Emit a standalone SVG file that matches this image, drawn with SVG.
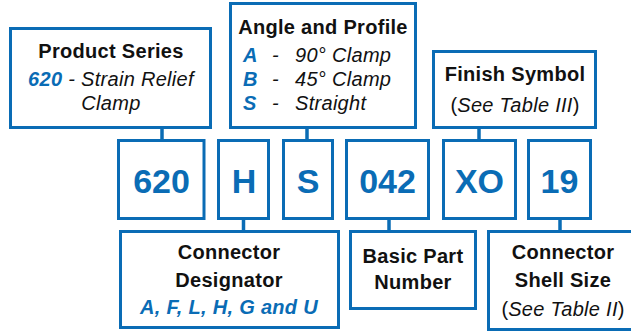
<svg xmlns="http://www.w3.org/2000/svg" width="631" height="331" viewBox="0 0 631 331">
<style>
.box{fill:#fff;stroke:#0a6cb5;stroke-width:3}
.con{stroke:#0a6cb5;stroke-width:3.5;fill:none}
text{font-family:"Liberation Sans",Arial,sans-serif;font-size:20px;fill:#111;text-anchor:middle}
.t{font-weight:bold;letter-spacing:0.3px}
.i{font-style:italic;letter-spacing:0.3px}
.b{fill:#0a6cb5}
.code{font-weight:bold;font-size:34px;fill:#0a6cb5}
</style>
<rect width="631" height="331" fill="#fff"/>
<g id="connectors">
<line class="con" x1="162" y1="128" x2="162" y2="140"/>
<line class="con" x1="307" y1="128" x2="307" y2="140"/>
<line class="con" x1="479" y1="128" x2="479" y2="140"/>
<line class="con" x1="243.5" y1="219" x2="243.5" y2="231"/>
<line class="con" x1="389" y1="219" x2="389" y2="231"/>
<line class="con" x1="560" y1="219" x2="560" y2="231"/>
</g>
<g id="product-series">
<rect class="box" x="10.5" y="28.5" width="200" height="99"/>
<text class="t" x="111" y="58">Product Series</text>
<text class="i" x="111" y="86"><tspan class="b" font-weight="bold">620</tspan> - Strain Relief</text>
<text class="i" x="111" y="110">Clamp</text>
</g>
<g id="angle-profile">
<rect class="box" x="230.5" y="3.5" width="185" height="124"/>
<text class="t" x="323" y="34">Angle and Profile</text>
<text class="i" style="text-anchor:start" x="243" y="62"><tspan class="b" font-weight="bold">A</tspan><tspan x="272">-</tspan><tspan x="295">90° Clamp</tspan></text>
<text class="i" style="text-anchor:start" x="243" y="86"><tspan class="b" font-weight="bold">B</tspan><tspan x="272">-</tspan><tspan x="295">45° Clamp</tspan></text>
<text class="i" style="text-anchor:start" x="243" y="110"><tspan class="b" font-weight="bold">S</tspan><tspan x="272">-</tspan><tspan x="295">Straight</tspan></text>
</g>
<g id="finish-symbol">
<rect class="box" x="433.5" y="51.5" width="162" height="76"/>
<text class="t" x="515" y="81">Finish Symbol</text>
<text x="515" y="112">(<tspan class="i">See Table III</tspan>)</text>
</g>
<g id="code-620">
<rect class="box" x="118.5" y="140.5" width="85.5" height="78"/>
<text class="code" x="161.5" y="193">620</text>
</g>
<g id="code-H">
<rect class="box" x="218.5" y="140.5" width="50" height="78"/>
<text class="code" x="244" y="193">H</text>
</g>
<g id="code-S">
<rect class="box" x="283.5" y="140.5" width="49" height="78"/>
<text class="code" x="308" y="193">S</text>
</g>
<g id="code-042">
<rect class="box" x="346.5" y="140.5" width="82" height="78"/>
<text class="code" x="387.5" y="193">042</text>
</g>
<g id="code-XO">
<rect class="box" x="443.5" y="140.5" width="72" height="78"/>
<text class="code" x="479.5" y="193">XO</text>
</g>
<g id="code-19">
<rect class="box" x="528.5" y="140.5" width="62" height="78"/>
<text class="code" x="559.5" y="193">19</text>
</g>
<g id="connector-designator">
<rect class="box" x="120.5" y="231.5" width="218" height="96"/>
<text class="t" x="229" y="259">Connector</text>
<text class="t" x="229" y="287">Designator</text>
<text class="i b" font-weight="bold" x="229" y="314">A, F, L, H, G and U</text>
</g>
<g id="basic-part-number">
<rect class="box" x="350.5" y="231.5" width="125" height="77"/>
<text class="t" x="413" y="263">Basic Part</text>
<text class="t" x="413" y="289">Number</text>
</g>
<g id="shell-size">
<rect class="box" x="488.5" y="231.5" width="152" height="98"/>
<text class="t" x="563" y="259">Connector</text>
<text class="t" x="563" y="287">Shell Size</text>
<text x="563" y="316">(<tspan class="i">See Table II</tspan>)</text>
</g>
</svg>
